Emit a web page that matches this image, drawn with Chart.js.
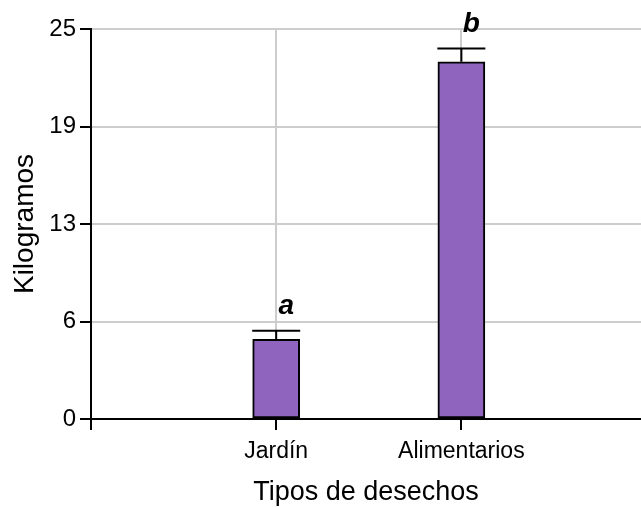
<!DOCTYPE html>
<html>
<head>
<meta charset="utf-8">
<script src="https://cdn.jsdelivr.net/npm/chart.js@4/dist/chart.umd.min.js"></script>
<style>
  html, body { margin: 0; padding: 0; background: #ffffff; }
  #wrap { width: 641px; height: 507px; }
</style>
</head>
<body>
<div id="wrap"><canvas id="chart" width="641" height="507"></canvas></div>
<script>
// Waste types and their mean weight (kg) with error (SEM)
const categories = ['Jardín', 'Alimentarios'];
const means = [5.1, 22.9];
const errors = [0.55, 0.85];
const groupLetters = ['a', 'b'];

// Y axis tick values and their printed labels
const yTickValues = [0, 6.25, 12.5, 18.75, 25];
const yTickLabels = ['0', '6', '13', '19', '25'];

const FONT = "'Liberation Sans', Arial, sans-serif";

// Error bars with caps and significance letters above each bar
const errorBarPlugin = {
  id: 'errorBars',
  afterDatasetsDraw(chart) {
    const { ctx, scales: { x, y } } = chart;
    ctx.save();
    ctx.strokeStyle = '#000';
    ctx.lineWidth = 2;
    categories.forEach((c, i) => {
      const cx = x.getPixelForValue(i + 1);
      const yMean = y.getPixelForValue(means[i]);
      const yTop = y.getPixelForValue(means[i] + errors[i]);
      ctx.beginPath();
      ctx.moveTo(cx, yMean);
      ctx.lineTo(cx, yTop);
      ctx.moveTo(cx - 24, yTop);
      ctx.lineTo(cx + 24, yTop);
      ctx.stroke();
      ctx.fillStyle = '#000';
      ctx.font = 'italic bold 28px ' + FONT;
      ctx.textAlign = 'center';
      ctx.textBaseline = 'alphabetic';
      ctx.fillText(groupLetters[i], cx + 10, yTop - 17);
    });
    ctx.restore();
  }
};

new Chart(document.getElementById('chart'), {
  type: 'bar',
  data: {
    datasets: [{
      data: categories.map((c, i) => ({ x: i + 1, y: means[i] })),
      backgroundColor: '#8f64bf',
      borderColor: '#000',
      borderWidth: 2,
      borderSkipped: false,
      barThickness: 47
    }]
  },
  options: {
    responsive: false,
    animation: false,
    layout: { padding: { top: 29, left: 0, right: 0, bottom: 0 } },
    plugins: { legend: { display: false }, tooltip: { enabled: false } },
    scales: {
      x: {
        type: 'linear',
        offset: false,
        min: 0,
        max: 2.97,
        afterBuildTicks(scale) {
          scale.ticks = [0, 1, 2].map(v => ({ value: v }));
        },
        afterFit(scale) { scale.height = 88; },
        ticks: {
          autoSkip: false,
          maxRotation: 0,
          color: '#000',
          padding: 8,
          font: { family: FONT, size: 23 },
          callback: (v) => categories[v - 1] || ''
        },
        grid: {
          offset: false,
          color: '#cdcdcd',
          lineWidth: 2,
          tickColor: '#000',
          tickWidth: 2,
          tickLength: 11
        },
        border: { color: '#000', width: 2 },
        title: {
          display: true,
          text: 'Tipos de desechos',
          color: '#000',
          font: { family: FONT, size: 27, lineHeight: 1 },
          padding: { top: 0, bottom: 1 }
        }
      },
      y: {
        min: 0,
        max: 25,
        afterBuildTicks(scale) {
          scale.ticks = yTickValues.map(v => ({ value: v }));
        },
        afterFit(scale) { scale.width = 91; },
        ticks: {
          color: '#000',
          padding: 4,
          font: { family: FONT, size: 24 },
          callback: (v) => yTickLabels[yTickValues.indexOf(v)]
        },
        grid: {
          color: '#cdcdcd',
          lineWidth: 2,
          tickColor: '#000',
          tickWidth: 2,
          tickLength: 11
        },
        border: { color: '#000', width: 2 },
        title: {
          display: true,
          text: 'Kilogramos',
          color: '#000',
          font: { family: FONT, size: 28, lineHeight: 1 },
          padding: { top: 11, bottom: 0 }
        }
      }
    }
  },
  plugins: [errorBarPlugin]
});
</script>
</body>
</html>
